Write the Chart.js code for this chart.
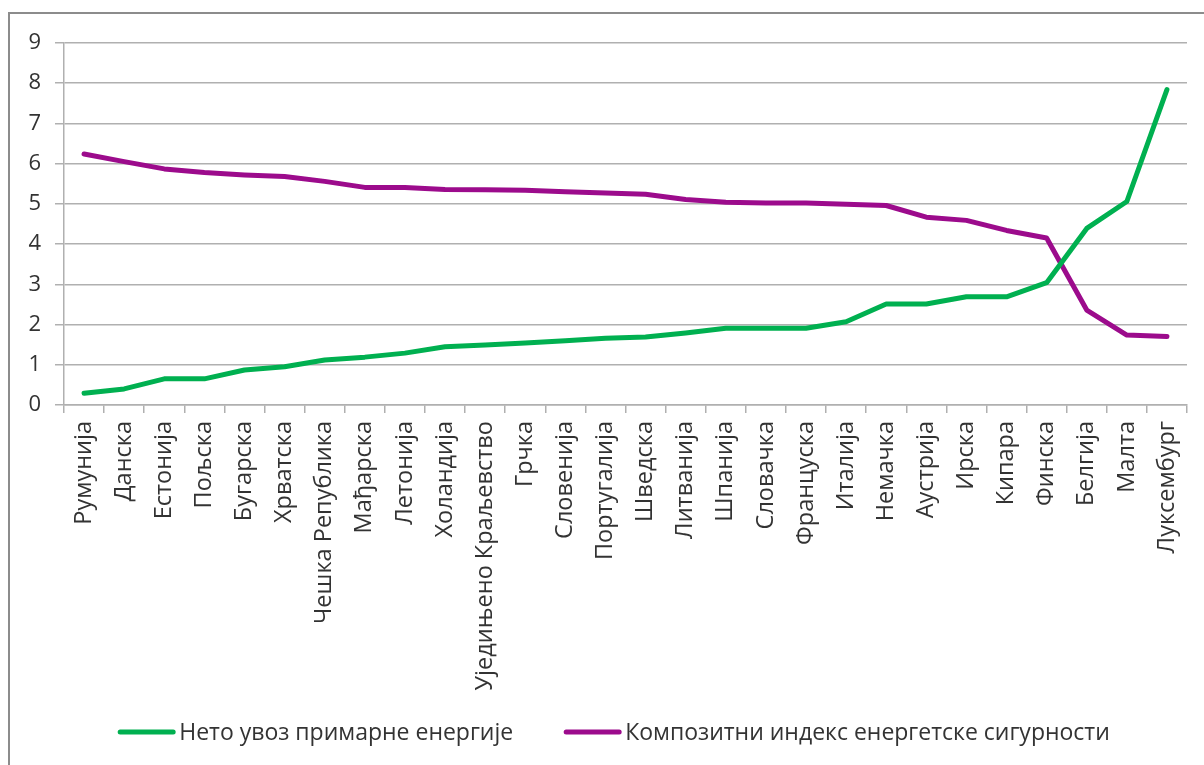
<!DOCTYPE html>
<html>
<head>
<meta charset="utf-8">
<script src="https://cdn.jsdelivr.net/npm/chart.js@4.4.1/dist/chart.umd.min.js"></script>
<style>
  html, body { margin: 0; padding: 0; background: #fff; overflow: hidden; }
  #frame {
    position: absolute; left: 8px; top: 12px; width: 1300px; height: 900px;
    border-left: 2px solid #8c8c8c; border-top: 2px solid #8c8c8c;
  }
  #wrap { position: absolute; left: 0; top: 0; width: 1204px; height: 765px; }
</style>
</head>
<body>
<div id="frame"></div>
<div id="wrap"><canvas id="graphCanvas"></canvas></div>
<script>
// Countries, sorted by net import of primary energy
const countries = [
    'Румунија', 'Данска', 'Естонија', 'Пољска', 'Бугарска', 'Хрватска',
    'Чешка Република', 'Мађарска', 'Летонија', 'Холандија', 'Уједињено Краљевство',
    'Грчка', 'Словенија', 'Португалија', 'Шведска', 'Литванија', 'Шпанија',
    'Словачка', 'Француска', 'Италија', 'Немачка', 'Аустрија', 'Ирска',
    'Кипара', 'Финска', 'Белгија', 'Малта', 'Луксембург'
];

const netImport = [
    0.29, 0.40, 0.65, 0.65, 0.87, 0.95, 1.12, 1.19, 1.29, 1.45, 1.49, 1.54, 1.60, 1.66,
    1.69, 1.79, 1.91, 1.91, 1.91, 2.07, 2.51, 2.51, 2.69, 2.69, 3.04, 4.39, 5.06, 7.84
];

const securityIndex = [
    6.24, 6.05, 5.87, 5.78, 5.72, 5.68, 5.56, 5.41, 5.41, 5.36, 5.35, 5.34, 5.30, 5.27,
    5.24, 5.11, 5.04, 5.02, 5.02, 4.99, 4.96, 4.67, 4.59, 4.34, 4.15, 2.36, 1.74, 1.70
];

const yTicks = [0, 1, 2, 3, 4, 5, 6, 7, 8, 9];

const seriesNames = ['Нето увоз примарне енергије', 'Композитни индекс енергетске сигурности'];
const seriesColors = ['#00b050', '#9c0b8c'];

const FONT = '"Open Sans", "Noto Sans", sans-serif';
const GRID = '#b0b0b0';

// Legend drawn as short line + label, laid out in one centred row
const lineLegend = {
    id: 'lineLegend',
    afterDraw(chart, args, opts) {
        const ctx = chart.ctx;
        ctx.save();
        ctx.font = opts.font;
        const items = chart.data.datasets.map(ds => ({
            text: ds.label,
            color: ds.borderColor,
            w: ctx.measureText(ds.label).width
        }));
        const total = items.reduce((s, it) => s + opts.lineLength + opts.gap + it.w, 0)
            + opts.spacing * (items.length - 1);
        let x = opts.centerX - total / 2;
        items.forEach(it => {
            ctx.strokeStyle = it.color;
            ctx.lineWidth = 5;
            ctx.lineCap = 'round';
            ctx.beginPath();
            ctx.moveTo(x + 2, opts.y);
            ctx.lineTo(x + opts.lineLength - 2, opts.y);
            ctx.stroke();
            x += opts.lineLength + opts.gap;
            ctx.fillStyle = opts.color;
            ctx.textBaseline = 'middle';
            ctx.textAlign = 'left';
            ctx.fillText(it.text, x, opts.y + 1);
            x += it.w + opts.spacing;
        });
        ctx.restore();
    }
};

const ctx = document.getElementById('graphCanvas').getContext('2d');

const chart = new Chart(ctx, {
    type: 'line',
    data: {
        labels: countries,
        datasets: [
            {
                label: seriesNames[0],
                data: netImport,
                borderColor: seriesColors[0],
                backgroundColor: seriesColors[0],
                borderWidth: 5,
                borderCapStyle: 'round',
                borderJoinStyle: 'round',
                pointRadius: 0,
                tension: 0
            },
            {
                label: seriesNames[1],
                data: securityIndex,
                borderColor: seriesColors[1],
                backgroundColor: seriesColors[1],
                borderWidth: 5,
                borderCapStyle: 'round',
                borderJoinStyle: 'round',
                pointRadius: 0,
                tension: 0
            }
        ]
    },
    options: {
        responsive: true,
        maintainAspectRatio: false,
        animation: false,
        layout: { padding: { top: 43, left: 0, right: 17, bottom: 0 } },
        scales: {
            x: {
                type: 'category',
                offset: true,
                grid: {
                    offset: true,
                    drawOnChartArea: false,
                    drawTicks: true,
                    tickLength: 8,
                    color: GRID,
                    lineWidth: 1.5
                },
                border: { display: true, color: GRID, width: 1.5 },
                ticks: {
                    autoSkip: false,
                    minRotation: 90,
                    maxRotation: 90,
                    padding: 8,
                    color: '#333',
                    font: { family: FONT, size: 23.5 }
                },
                afterFit(scale) { scale.height = 360; }
            },
            y: {
                min: 0,
                max: 9,
                afterBuildTicks(scale) { scale.ticks = yTicks.map(v => ({ value: v })); },
                grid: {
                    drawTicks: true,
                    tickLength: 9,
                    color: GRID,
                    lineWidth: 1.5
                },
                border: { display: true, color: GRID, width: 1.5 },
                ticks: {
                    padding: 14,
                    color: '#333',
                    font: { family: FONT, size: 22 }
                },
                afterFit(scale) { scale.width = 64; }
            }
        },
        plugins: {
            legend: { display: false },
            tooltip: { enabled: false },
            lineLegend: {
                font: '23px ' + FONT,
                color: '#333',
                centerX: 614,
                y: 732,
                lineLength: 57,
                gap: 4,
                spacing: 51
            }
        }
    },
    plugins: [lineLegend]
});
</script>
</body>
</html>
